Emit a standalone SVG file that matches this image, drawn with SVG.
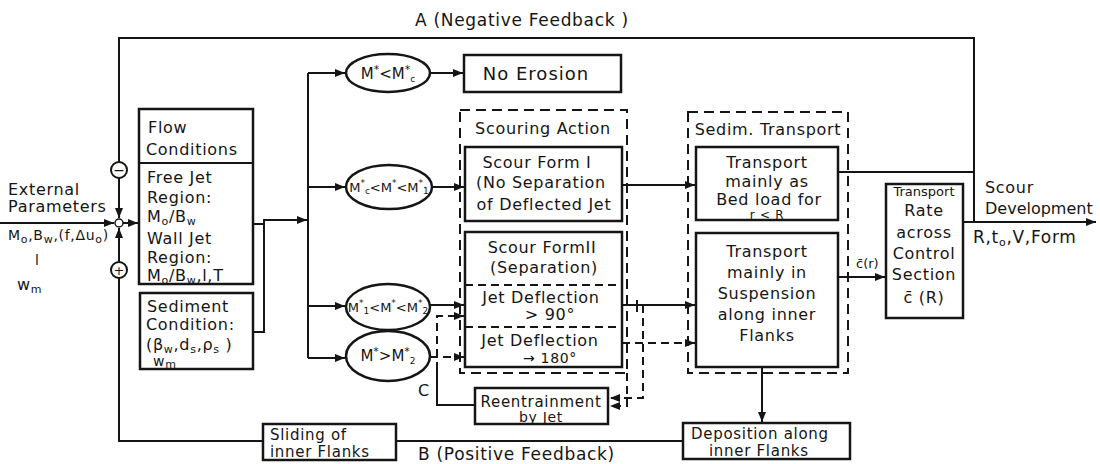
<svg xmlns="http://www.w3.org/2000/svg" width="1100" height="464" viewBox="0 0 1100 464">
  <style>
    .t{font-family:"DejaVu Sans","Liberation Sans",sans-serif;font-size:16px;fill:#151515;letter-spacing:0.7px}
    .s{font-size:14px}
    .m{text-anchor:middle}
    .e{font-size:13px;letter-spacing:0}
    .box{fill:#fff;stroke:#151515;stroke-width:2.5}
    .dbox{fill:none;stroke:#151515;stroke-width:2;stroke-dasharray:10 6}
    .ln{fill:none;stroke:#151515;stroke-width:2}
    .dl{fill:none;stroke:#151515;stroke-width:2;stroke-dasharray:8 5}
    .sp{font-size:11px}
    .ep{font-size:9px}
  </style>
  <defs>
    <marker id="ah" viewBox="0 0 10 8" refX="10" refY="4" markerWidth="10" markerHeight="8" markerUnits="userSpaceOnUse" orient="auto">
      <path d="M0,0 L10,4 L0,8 z" fill="#151515"/>
    </marker>
  </defs>
  <rect width="1100" height="464" fill="#fff"/>

  <!-- connectors -->
  <g id="connectors">
    <!-- A: negative feedback loop -->
    <path class="ln" d="M974,222 V38 H119 V162"/>
    <path class="ln" d="M119,178 V218" marker-end="url(#ah)"/>
    <!-- B: positive feedback loop -->
    <path class="ln" d="M683,441 H396"/>
    <path class="ln" d="M263,441 H119 V278"/>
    <path class="ln" d="M119,262 V228" marker-end="url(#ah)"/>
    <!-- external parameters into the summing point -->
    <path class="ln" d="M0,223 H114" marker-end="url(#ah)"/>
    <path class="ln" d="M123,223 H138" marker-end="url(#ah)"/>
    <!-- M* from flow and sediment conditions -->
    <path class="ln" d="M233,224 H264"/>
    <path class="ln" d="M253,332 H264 V220 H307" marker-end="url(#ah)"/>
    <path class="ln" d="M308,73 V358"/>
    <path class="ln" d="M308,73 H345" marker-end="url(#ah)"/>
    <path class="ln" d="M308,187 H345" marker-end="url(#ah)"/>
    <path class="ln" d="M308,306 H345" marker-end="url(#ah)"/>
    <path class="ln" d="M308,358 H345" marker-end="url(#ah)"/>
    <!-- ranges to actions -->
    <path class="ln" d="M431,73 H463" marker-end="url(#ah)"/>
    <path class="ln" d="M432,187 H464" marker-end="url(#ah)"/>
    <path class="ln" d="M430,305 H464" marker-end="url(#ah)"/>
    <path class="dl" d="M430,357 H464" marker-end="url(#ah)"/>
    <!-- C: reentrainment loop -->
    <path class="ln" d="M475,405 H437 V370"/>
    <path class="dl" d="M437,370 V316 H464" marker-end="url(#ah)"/>
    <!-- scour forms to sediment transport -->
    <path class="ln" d="M622,185 H695" marker-end="url(#ah)"/>
    <path class="ln" d="M622,305 H695" marker-end="url(#ah)"/>
    <path class="dl" d="M622,343 H695" marker-end="url(#ah)"/>
    <path class="ln" d="M637,300 V312"/>
    <path class="dl" d="M643,305 V398 H610" marker-end="url(#ah)"/>
    <path class="dl" d="M627,373 V406 H610" marker-end="url(#ah)"/>
    <!-- transport to deposition, rate and output -->
    <path class="ln" d="M762,367 V422" marker-end="url(#ah)"/>
    <path class="ln" d="M838,172 H974"/>
    <path class="ln" d="M838,277 H885" marker-end="url(#ah)"/>
    <path class="ln" d="M963,222 H1096" marker-end="url(#ah)"/>
  </g>

  <!-- loop labels -->
  <text class="t" x="415" y="26" style="font-size:17px">A (Negative Feedback )</text>
  <text class="t" x="418" y="460" style="font-size:17px">B (Positive Feedback)</text>
  <text class="t" x="418" y="396" style="font-size:16px">C</text>

  <g id="external-parameters">
    <text class="t" x="8" y="195">External</text>
    <text class="t" x="8" y="212">Parameters</text>
    <text class="t s" x="8" y="240">M<tspan class="sp" dy="3">o</tspan><tspan dy="-3">,B</tspan><tspan class="sp" dy="3">w</tspan><tspan dy="-3">,(f,Δu</tspan><tspan class="sp" dy="3">o</tspan><tspan dy="-3">)</tspan></text>
    <text class="t s" x="35" y="265">l</text>
    <text class="t" x="17" y="290">w<tspan class="sp" dy="3">m</tspan></text>
  </g>

  <g id="summing-point">
    <circle cx="119" cy="170" r="8" fill="#fff" stroke="#151515" stroke-width="2"/>
    <text class="t m" x="119" y="175" style="font-size:14px;letter-spacing:0">−</text>
    <circle cx="119" cy="223" r="4" fill="#fff" stroke="#151515" stroke-width="1.5"/>
    <circle cx="119" cy="270" r="8" fill="#fff" stroke="#151515" stroke-width="2"/>
    <text class="t m" x="119" y="275" style="font-size:13px;letter-spacing:0">+</text>
  </g>

  <g id="flow-conditions">
    <rect class="box" x="139" y="109" width="114" height="175"/>
    <line class="ln" x1="139" y1="163" x2="253" y2="163" stroke-width="2.5"/>
    <text class="t" x="148" y="133">Flow</text>
    <text class="t" x="146" y="155">Conditions</text>
    <text class="t" x="147" y="183">Free Jet</text>
    <text class="t" x="147" y="203">Region:</text>
    <text class="t" x="147" y="222">M<tspan class="sp" dy="3">o</tspan><tspan dy="-3">/B</tspan><tspan class="sp" dy="3">w</tspan></text>
    <text class="t" x="147" y="244">Wall Jet</text>
    <text class="t" x="147" y="263">Region:</text>
    <text class="t" x="147" y="281">M<tspan class="sp" dy="3">o</tspan><tspan dy="-3">/B</tspan><tspan class="sp" dy="3">w</tspan><tspan dy="-3">,l,T</tspan></text>
  </g>

  <g id="sediment-condition">
    <rect class="box" x="140" y="293" width="113" height="76"/>
    <text class="t" x="147" y="312">Sediment</text>
    <text class="t" x="146" y="330">Condition:</text>
    <text class="t" x="146" y="350">(β<tspan class="sp" dy="3">w</tspan><tspan dy="-3">,d</tspan><tspan class="sp" dy="3">s</tspan><tspan dy="-3">,ρ</tspan><tspan class="sp" dy="3">s</tspan><tspan dy="-3"> )</tspan></text>
    <text class="t s" x="153" y="366">w<tspan class="sp" dy="2">m</tspan></text>
  </g>

  <g id="range-no-erosion">
    <ellipse cx="388" cy="73" rx="42" ry="19" fill="#fff" stroke="#151515" stroke-width="2.5"/>
    <text class="t m" x="388" y="79" style="font-size:15px;letter-spacing:0">M<tspan class="sp" dy="-6">*</tspan><tspan dy="6">&lt;M</tspan><tspan class="sp" dy="-6">*</tspan><tspan class="ep" dy="9">c</tspan></text>
  </g>

  <g id="range-form-one">
    <ellipse cx="389" cy="187" rx="43" ry="22" fill="#fff" stroke="#151515" stroke-width="2.5"/>
    <text class="t m e" x="389" y="192">M<tspan class="ep" dy="-6">*</tspan><tspan class="ep" dy="8">c</tspan><tspan dy="-2">&lt;M</tspan><tspan class="ep" dy="-6">*</tspan><tspan dy="6">&lt;M</tspan><tspan class="ep" dy="-6">*</tspan><tspan class="ep" dy="8">1</tspan></text>
  </g>

  <g id="range-form-two-a">
    <ellipse cx="388" cy="307" rx="42" ry="23" fill="#fff" stroke="#151515" stroke-width="2.5"/>
    <text class="t m e" x="388" y="312">M<tspan class="ep" dy="-6">*</tspan><tspan class="ep" dy="8">1</tspan><tspan dy="-2">&lt;M</tspan><tspan class="ep" dy="-6">*</tspan><tspan dy="6">&lt;M</tspan><tspan class="ep" dy="-6">*</tspan><tspan class="ep" dy="8">2</tspan></text>
  </g>

  <g id="range-form-two-b">
    <ellipse cx="388" cy="356" rx="42" ry="25" fill="#fff" stroke="#151515" stroke-width="2.5"/>
    <text class="t m" x="388" y="361" style="font-size:15px;letter-spacing:0">M<tspan class="sp" dy="-6">*</tspan><tspan dy="6">&gt;M</tspan><tspan class="sp" dy="-6">*</tspan><tspan class="ep" dy="9">2</tspan></text>
  </g>

  <g id="no-erosion">
    <rect class="box" x="464" y="55" width="157" height="37"/>
    <text class="t m" x="536" y="80" style="font-size:18px;letter-spacing:1px">No  Erosion</text>
  </g>

  <g id="scouring-action">
    <rect class="dbox" x="460" y="110" width="167" height="263"/>
    <text class="t m" x="543" y="134">Scouring Action</text>
  </g>

  <g id="scour-form-one">
    <rect class="box" x="465" y="147" width="157" height="74"/>
    <text class="t m" x="537" y="168">Scour  Form I</text>
    <text class="t m" x="541" y="188">(No Separation</text>
    <text class="t m" x="544" y="210">of Deflected Jet</text>
  </g>

  <g id="scour-form-two">
    <rect class="box" x="465" y="232" width="157" height="135"/>
    <line class="dl" x1="465" y1="285" x2="622" y2="285"/>
    <line class="dl" x1="465" y1="327" x2="622" y2="327"/>
    <text class="t m" x="542" y="253">Scour FormII</text>
    <text class="t m" x="544" y="273">(Separation)</text>
    <text class="t m" x="541" y="303">Jet Deflection</text>
    <text class="t m" x="550" y="320">&gt; 90°</text>
    <text class="t m" x="540" y="346">Jet Deflection</text>
    <text class="t m s" x="550" y="363">→ 180°</text>
  </g>

  <g id="reentrainment">
    <rect class="box" x="475" y="388" width="133" height="36"/>
    <text class="t m" x="541" y="407" style="font-size:15px">Reentrainment</text>
    <text class="t m s" x="541" y="422">by Jet</text>
  </g>

  <g id="sediment-transport">
    <rect class="dbox" x="688" y="112" width="160" height="261"/>
    <text class="t m" x="768" y="135">Sedim. Transport</text>
  </g>

  <g id="bed-load">
    <rect class="box" x="696" y="147" width="142" height="73"/>
    <text class="t m" x="767" y="168">Transport</text>
    <text class="t m" x="767" y="187">mainly as</text>
    <text class="t m" x="769" y="205">Bed load for</text>
    <text class="t m" x="767" y="219" style="font-size:12px">r &lt; R</text>
  </g>

  <g id="suspension">
    <rect class="box" x="696" y="233" width="142" height="134"/>
    <text class="t m" x="767" y="257">Transport</text>
    <text class="t m" x="767" y="278">mainly in</text>
    <text class="t m" x="767" y="299">Suspension</text>
    <text class="t m" x="767" y="320">along inner</text>
    <text class="t m" x="767" y="341">Flanks</text>
  </g>

  <g id="deposition">
    <rect class="box" x="683" y="423" width="167" height="36"/>
    <text class="t" x="691" y="439" style="font-size:15px">Deposition along</text>
    <text class="t" x="709" y="456" style="font-size:15px">inner Flanks</text>
  </g>

  <g id="sliding">
    <rect class="box" x="263" y="424" width="133" height="36"/>
    <text class="t" x="270" y="440" style="font-size:15px">Sliding  of</text>
    <text class="t" x="270" y="457" style="font-size:15px">inner Flanks</text>
  </g>

  <g id="transport-rate">
    <rect class="box" x="886" y="184" width="77" height="134"/>
    <text class="t m" x="924" y="196" style="font-size:13px;letter-spacing:0">Transport</text>
    <text class="t m" x="924" y="216">Rate</text>
    <text class="t m" x="924" y="238">across</text>
    <text class="t m" x="924" y="259">Control</text>
    <text class="t m" x="924" y="280">Section</text>
    <text class="t m" x="924" y="303">c̄ (R)</text>
  </g>

  <g id="concentration-label">
    <text class="t" x="856" y="268" style="font-size:13px;letter-spacing:0">c̄(r)</text>
  </g>

  <g id="scour-development">
    <text class="t" x="985" y="193">Scour</text>
    <text class="t" x="985" y="214" style="letter-spacing:0">Development</text>
    <text class="t" x="973" y="243" style="font-size:17px">R,t<tspan class="sp" dy="3">o</tspan><tspan dy="-3">,V,Form</tspan></text>
  </g>
</svg>
